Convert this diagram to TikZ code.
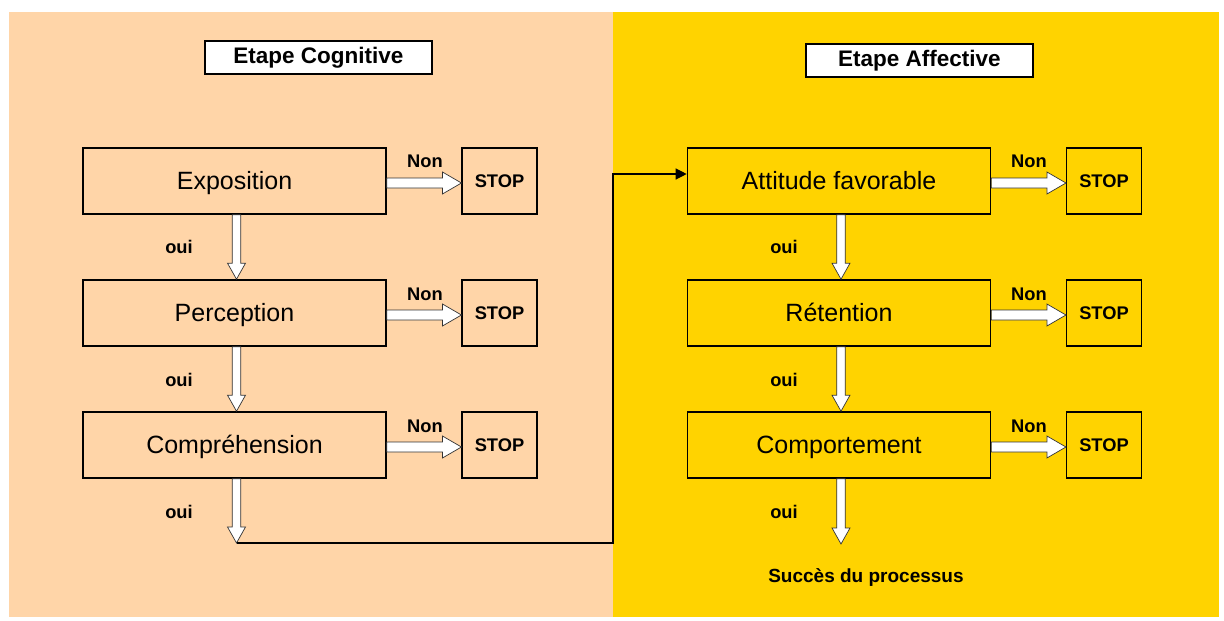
\documentclass[tikz,border=0pt]{standalone}
\usepackage{fontspec}
\setmainfont{Liberation Sans}
\usetikzlibrary{calc,arrows.meta}
\definecolor{peach}{HTML}{FFD5A8}
\definecolor{gold}{HTML}{FFD300}
\tikzset{
  mainbox/.style={draw=black, line width=1.6pt, minimum width=303pt, minimum height=66pt, inner sep=0pt, text height=17pt, text depth=0pt, font=\fontsize{25}{29}\selectfont},
  stopbox/.style={draw=black, line width=1.1pt, minimum width=75pt, minimum height=66pt, inner sep=0pt, font=\bfseries\fontsize{18.3}{21}\selectfont},
  titlebox/.style={draw=black, fill=white, line width=1.1pt, minimum width=227pt, minimum height=33pt, inner sep=0pt, font=\bfseries\fontsize{22.5}{26}\selectfont},
  lbl/.style={font=\bfseries\fontsize{18.3}{21}\selectfont, inner sep=0pt},
  blockarrow/.style={draw=black!80, fill=white, line width=0.7pt, line join=miter},
  joinline/.style={draw=black, line width=1.2pt}
}
\newcommand\harr[2]{\draw[blockarrow] let \p1=($(#1)+(0,2)$), \p2=($(#2)+(0,2)$) in (\x1,\y1+5pt) -- (\x2-19pt,\y1+5pt) -- (\x2-19pt,\y1+11pt) -- (\x2,\y1) -- (\x2-19pt,\y1-11pt) -- (\x2-19pt,\y1-5pt) -- (\x1,\y1-5pt) -- cycle;}
\newcommand\varr[2]{\draw[blockarrow] let \p1=($(#1)+(2,0)$), \p2=(#2) in (\x1-4.2pt,\y1) -- (\x1-4.2pt,\y2+16pt) -- (\x1-9pt,\y2+16pt) -- (\x1,\y2) -- (\x1+9pt,\y2+16pt) -- (\x1+4.2pt,\y2+16pt) -- (\x1+4.2pt,\y1) -- cycle;}
\begin{document}
\begin{tikzpicture}[x=1pt,y=-1pt]
\useasboundingbox (0,0) rectangle (1224,621);
\fill[white] (0,0) rectangle (1224,621);
\fill[peach] (9,12) rectangle (613,617);
\fill[gold] (613,12) rectangle (1219,617);

% titles
\node[titlebox] (t1) at (318.5,57.5) {Etape Cognitive};
\node[titlebox] (t2) at (919.5,60.5) {Etape Affective};

% left column
\node[mainbox] (expo) at (234.5,181) {Exposition};
\node[mainbox] (perc) at (234.5,313) {Perception};
\node[mainbox] (comp) at (234.5,445) {Compréhension};
\node[stopbox] (s1) at (499.5,181) {STOP};
\node[stopbox] (s2) at (499.5,313) {STOP};
\node[stopbox] (s3) at (499.5,445) {STOP};

% right column
\node[mainbox] (atti) at (839,181) {Attitude favorable};
\node[mainbox] (rete) at (839,313) {Rétention};
\node[mainbox] (comt) at (839,445) {Comportement};
\node[stopbox] (s4) at (1104,181) {STOP};
\node[stopbox] (s5) at (1104,313) {STOP};
\node[stopbox] (s6) at (1104,445) {STOP};

% labels
\node[lbl] (n1) at (425,161) {Non};
\node[lbl] (n2) at (425,294) {Non};
\node[lbl] (n3) at (425,426) {Non};
\node[lbl] (n4) at (1029,161) {Non};
\node[lbl] (n5) at (1029,294) {Non};
\node[lbl] (n6) at (1029,426) {Non};
\node[lbl] (o1) at (179,247) {oui};
\node[lbl] (o2) at (179,380) {oui};
\node[lbl] (o3) at (179,512) {oui};
\node[lbl] (o4) at (784,247) {oui};
\node[lbl] (o5) at (784,380) {oui};
\node[lbl] (o6) at (784,512) {oui};
\node[lbl, font=\bfseries\fontsize{19}{22}\selectfont] (succ) at (866,577) {Succès du processus};

% coordinates
\coordinate (j1) at (236.5,543);
\coordinate (j2) at (613,543);
\coordinate (j3) at (613,174);
\coordinate (e2) at (841,544);

% horizontal block arrows
\harr{expo.east}{s1.west}
\harr{perc.east}{s2.west}
\harr{comp.east}{s3.west}
\harr{atti.east}{s4.west}
\harr{rete.east}{s5.west}
\harr{comt.east}{s6.west}

% vertical block arrows
\varr{expo.south}{perc.north}
\varr{perc.south}{comp.north}
\varr{comp.south}{j1}
\varr{atti.south}{rete.north}
\varr{rete.south}{comt.north}
\varr{comt.south}{e2}

% join line
\draw[joinline, -{Triangle[length=11pt,width=11pt]}] (j1) -- (j2) -- (j3) -- (j3 -| atti.west);
\end{tikzpicture}
\end{document}
